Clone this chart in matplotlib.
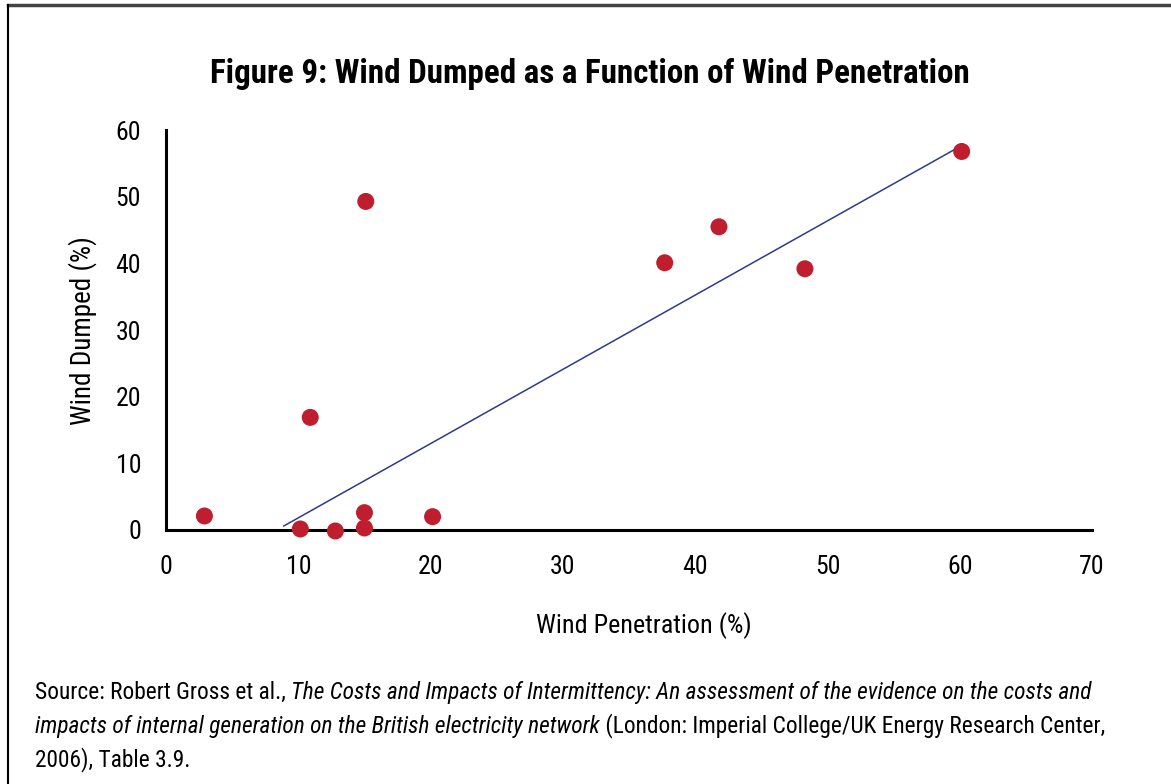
import matplotlib
matplotlib.use("Agg")
import matplotlib.pyplot as plt
from matplotlib import font_manager as fm
from matplotlib.lines import Line2D
from matplotlib.offsetbox import TextArea, HPacker, AnchoredOffsetbox, VPacker

names = {f.name for f in fm.fontManager.ttflist}
def pick(*cands):
    for c in cands:
        if c in names:
            return c
    return "DejaVu Sans"

COND = pick("Roboto Condensed", "Liberation Sans Narrow", "DejaVu Sans Condensed", "Roboto")
TITLEF = pick("Roboto Condensed", "Liberation Sans Narrow", "DejaVu Sans Condensed", "Lato")

# Data
penetration = [2.9, 15.1, 10.9, 10.15, 12.8, 15.0, 15.0, 20.15, 37.7, 41.8, 48.3, 60.15]
dumped = [2.1, 49.3, 16.9, 0.15, -0.15, 2.6, 0.3, 2.0, 40.1, 45.5, 39.2, 56.8]
trend_x = [8.9, 59.8]
trend_y = [0.6, 57.3]
x_ticks = [0, 10, 20, 30, 40, 50, 60, 70]
y_ticks = [0, 10, 20, 30, 40, 50, 60]

title = "Figure 9: Wind Dumped as a Function of Wind Penetration"
xlabel = "Wind Penetration (%)"
ylabel = "Wind Dumped (%)"

fig = plt.figure(figsize=(11.71, 7.84), dpi=100)
ax = fig.add_axes([0.1418, 0.324, 0.7907, 0.510])

ax.plot(trend_x, trend_y, color="#2E3A8C", lw=1.1, zorder=2)
ax.scatter(penetration, dumped, s=150, color="#BF1E2E", edgecolors="none", zorder=3, clip_on=False)

ax.set_xlim(0, 70)
ax.set_ylim(0, 60)
ax.set_xticks(x_ticks)
ax.set_yticks(y_ticks)
for s in ["top", "right"]:
    ax.spines[s].set_visible(False)
for s in ["left", "bottom"]:
    ax.spines[s].set_linewidth(2.2)
    ax.spines[s].set_color("black")
ax.tick_params(length=0, pad=18, labelsize=18.5)
for lab in ax.get_xticklabels() + ax.get_yticklabels():
    lab.set_fontfamily(COND)

ax.set_xlabel(xlabel, fontsize=18.8, fontfamily=COND)
ax.xaxis.set_label_coords(0.516, -0.205)
ax.set_ylabel(ylabel, fontsize=19.5, fontfamily=COND)
ax.yaxis.set_label_coords(-0.075, 0.5)

fig.text(0.504, 0.906, title, ha="center", va="center", fontsize=23.8, fontweight="bold", fontfamily=TITLEF)

def ta(t, italic=False):
    return TextArea(t, textprops=dict(fontsize=16.8, fontfamily=COND, fontstyle="italic" if italic else "normal"))
line1 = HPacker(children=[ta("Source: Robert Gross et al., "), ta("The Costs and Impacts of Intermittency: An assessment of the evidence on the costs and", True)], sep=0, pad=0)
line2 = HPacker(children=[ta("impacts of internal generation on the British electricity network", True), ta(" (London: Imperial College/UK Energy Research Center,")], sep=0, pad=0)
line3 = HPacker(children=[ta("2006), Table 3.9.")], sep=0, pad=0)
block = VPacker(children=[line1, line2, line3], sep=6.5, pad=0, align="left")
ab = AnchoredOffsetbox(loc="upper left", child=block, frameon=False, pad=0, borderpad=0,
                       bbox_to_anchor=(0.030, 0.131), bbox_transform=fig.transFigure)
fig.add_artist(ab)

# frame lines
fig.add_artist(Line2D([0.007, 1.0], [0.994, 0.994], transform=fig.transFigure, color="#444444", lw=2.5))
fig.add_artist(Line2D([0.007, 0.007], [0.0, 0.994], transform=fig.transFigure, color="black", lw=1.5))

fig.savefig("out.png", dpi=100)
